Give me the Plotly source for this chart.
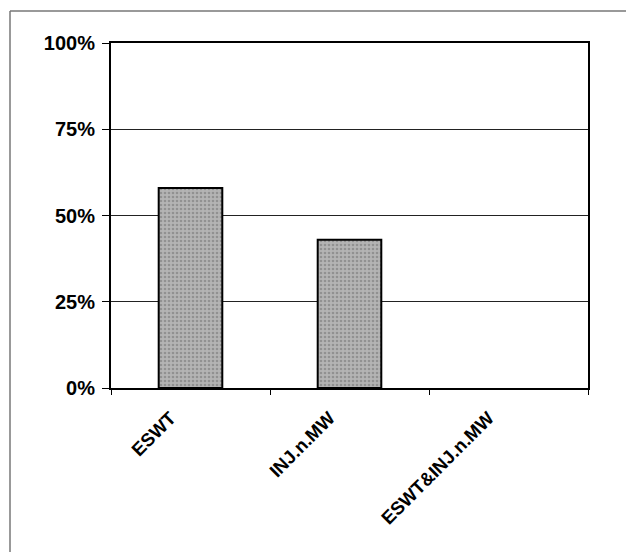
import plotly.graph_objects as go

categories = ["ESWT", "INJ.n.MW", "ESWT&INJ.n.MW"]
values = [0.58, 0.43, 0.0]
tick_vals = [0, 0.25, 0.5, 0.75, 1.0]
tick_text = ["0%", "25%", "50%", "75%", "100%"]

# page body adds an 8px offset; compensate in the figure size/margins
OFF = 8
W, H = 634 - OFF, 552 - OFF
L, R, T, B = 111 - OFF, 46, 43 - OFF, 164
pw, ph = W - L - R, H - T - B

fig = go.Figure()
fig.add_trace(go.Bar(
    x=categories, y=values,
    marker=dict(
        color="#9e9e9e",
        line=dict(color="black", width=[2 if v > 0 else 0 for v in values]),
        pattern=dict(shape=".", fgcolor="#6e6e6e", bgcolor="#b4b4b4", size=4, solidity=0.35),
    ),
))

yfont = dict(family="Liberation Sans, Arial, sans-serif", size=20, color="black")
xfont = dict(family="Liberation Sans, Arial, sans-serif", size=18.5, color="black")

fig.update_layout(
    width=W, height=H,
    margin=dict(l=L, r=R, t=T, b=B, autoexpand=False),
    paper_bgcolor="white", plot_bgcolor="white",
    showlegend=False,
    bargap=0.6,
    xaxis=dict(
        type="category", tickson="boundaries", ticks="outside", ticklen=5,
        tickcolor="black", tickwidth=1, tickangle=-45,
        tickfont=xfont, showgrid=False,
        showline=True, linecolor="black", linewidth=2, mirror=True,
        range=[-0.5, 2.5],
        tickvals=categories, ticktext=["<b>%s</b>" % c for c in categories],
        ticklabelstandoff=10, ticklabelshift=-20,
    ),
    yaxis=dict(
        range=[0, 1], tickvals=tick_vals, ticktext=["<b>%s</b>" % t for t in tick_text],
        ticks="outside", ticklen=7, tickcolor="black", tickfont=yfont,
        showgrid=True, gridcolor="#222222", gridwidth=1,
        showline=True, linecolor="black", linewidth=2, mirror=True,
        zeroline=False, ticklabelstandoff=3,
    ),
)

# outer frame (left and top lines of the scanned figure border)
x_left = (10 - OFF - L) / pw
y_top = 1 + (T - (11 - OFF)) / ph
fig.add_shape(type="line", xref="paper", yref="paper", x0=x_left, x1=x_left,
              y0=-B / ph - 0.05, y1=y_top, line=dict(color="#777777", width=1.5))
fig.add_shape(type="line", xref="paper", yref="paper", x0=x_left, x1=1 + R / pw + 0.05,
              y0=y_top, y1=y_top, line=dict(color="#777777", width=1.5))

fig.write_html("out.html")
